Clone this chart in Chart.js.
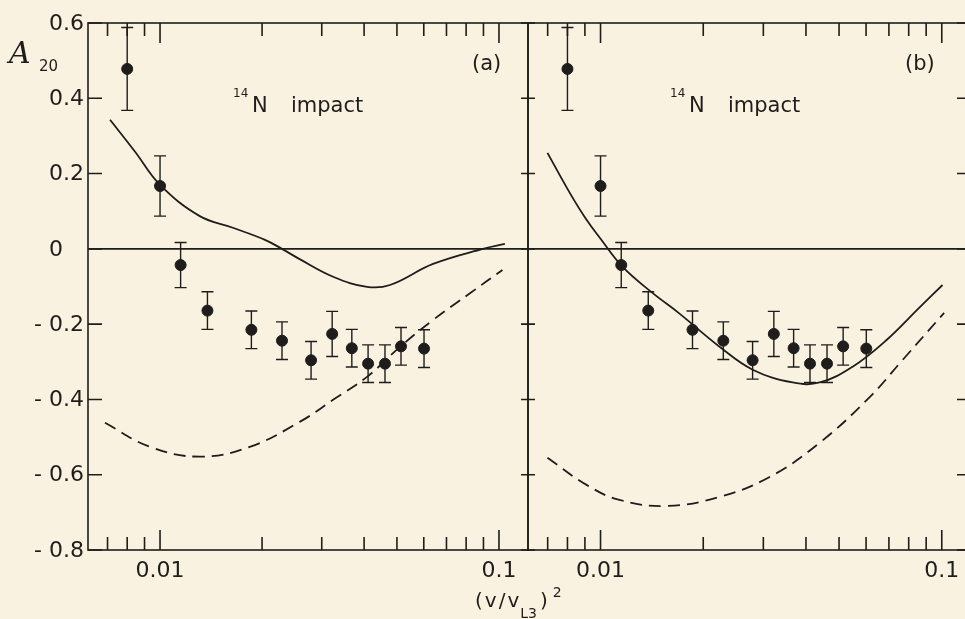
<!DOCTYPE html>
<html>
<head>
<meta charset="utf-8">
<script src="https://cdn.jsdelivr.net/npm/chart.js@4"></script>
<style>
  html, body { margin: 0; padding: 0; width: 965px; height: 619px; overflow: hidden; background: #faf2e1; }
  canvas { position: absolute; top: 0; }
  #chartA { left: 0; }
  #chartB { left: 500px; }
</style>
</head>
<body>
<canvas id="chartA" width="600" height="619"></canvas>
<canvas id="chartB" width="480" height="619"></canvas>
<script>
// measured points (same data in both panels)
const xVals = [0.0080, 0.0100, 0.0115, 0.0138, 0.0186, 0.0229, 0.0279, 0.0322, 0.0368, 0.0411, 0.0461, 0.0514, 0.0601];
const yVals = [0.478, 0.167, -0.043, -0.164, -0.215, -0.244, -0.296, -0.226, -0.264, -0.305, -0.305, -0.259, -0.265];
const yErr  = [0.11, 0.08, 0.06, 0.05, 0.05, 0.05, 0.05, 0.06, 0.05, 0.05, 0.05, 0.05, 0.05];

// panel (a) theory curves
const solidAx = [0.00712, 0.00844, 0.0100, 0.0131, 0.0164, 0.0204, 0.0229, 0.0259, 0.0324, 0.0408, 0.0477, 0.0639, 0.0897, 0.1041];
const solidAy = [0.343, 0.258, 0.170, 0.087, 0.056, 0.024, 0.0, -0.028, -0.074, -0.101, -0.096, -0.040, 0.0, 0.013];
const dashAx = [0.00688, 0.00934, 0.0131, 0.0184, 0.0259, 0.0324, 0.0408, 0.0511, 0.0639, 0.0821, 0.1024];
const dashAy = [-0.462, -0.526, -0.552, -0.526, -0.459, -0.401, -0.340, -0.260, -0.189, -0.118, -0.056];

// panel (b) theory curves
const solidBx = [0.00699, 0.00811, 0.00910, 0.0100, 0.01161, 0.01420, 0.01704, 0.02233, 0.02792, 0.03655, 0.0439, 0.0548, 0.0689, 0.0864, 0.1005];
const solidBy = [0.255, 0.150, 0.077, 0.027, -0.048, -0.117, -0.172, -0.260, -0.321, -0.355, -0.355, -0.313, -0.242, -0.154, -0.096];
const dashBx = [0.00699, 0.00910, 0.01137, 0.01562, 0.02233, 0.0313, 0.0439, 0.0616, 0.0768, 0.1016];
const dashBy = [-0.555, -0.627, -0.667, -0.683, -0.659, -0.606, -0.515, -0.393, -0.295, -0.170];

// axes
const yTicks = [0.6, 0.4, 0.2, 0, -0.2, -0.4, -0.6, -0.8];
const xTickMarks = [0.007, 0.008, 0.009, 0.01, 0.02, 0.03, 0.04, 0.05, 0.06, 0.07, 0.08, 0.09, 0.1];
const xMin = 0.00613, xMax = 0.1218;

const INK = '#1f1d1b';
const FONT = '"DejaVu Sans", sans-serif';

const pairs = (xs, ys) => xs.map((x, i) => ({x: x, y: ys[i]}));
const isDecade = v => Math.abs(Math.log10(v) - Math.round(Math.log10(v))) < 1e-6;

function panelPlugin(p) {
  return {
    id: 'panel',
    beforeDatasetsDraw(chart) {
      const {ctx, chartArea: a, scales: {x, y}} = chart;
      ctx.save();
      ctx.strokeStyle = INK;
      ctx.lineWidth = 1.6;
      const y0 = y.getPixelForValue(0);
      ctx.beginPath();
      ctx.moveTo(a.left, y0);
      ctx.lineTo(a.right, y0);
      ctx.stroke();
      // error bars
      ctx.lineWidth = 1.4;
      xVals.forEach((xv, i) => {
        const px = x.getPixelForValue(xv);
        const t = y.getPixelForValue(yVals[i] + yErr[i]);
        const b = y.getPixelForValue(yVals[i] - yErr[i]);
        ctx.beginPath();
        ctx.moveTo(px, t); ctx.lineTo(px, b);
        ctx.moveTo(px - 6, t); ctx.lineTo(px + 6, t);
        ctx.moveTo(px - 6, b); ctx.lineTo(px + 6, b);
        ctx.stroke();
      });
      ctx.restore();
    },
    afterDraw(chart) {
      const {ctx, chartArea: a, scales: {x, y}} = chart;
      ctx.save();
      ctx.strokeStyle = INK;
      ctx.fillStyle = INK;
      ctx.lineWidth = 1.6;
      ctx.strokeRect(a.left, a.top, a.right - a.left, a.bottom - a.top);

      // inward ticks
      ctx.beginPath();
      xTickMarks.forEach(v => {
        const px = x.getPixelForValue(v);
        const len = isDecade(v) ? 20 : 13;
        ctx.moveTo(px, a.bottom); ctx.lineTo(px, a.bottom - len);
        ctx.moveTo(px, a.top); ctx.lineTo(px, a.top + len);
      });
      yTicks.forEach(v => {
        const py = y.getPixelForValue(v);
        ctx.moveTo(a.left, py); ctx.lineTo(a.left + p.leftTick, py);
        ctx.moveTo(a.right, py); ctx.lineTo(a.right - p.rightTick, py);
      });
      ctx.stroke();

      // y tick labels, digits aligned on the leading zero
      if (p.yLabels) {
        ctx.font = '22px ' + FONT;
        ctx.textBaseline = 'middle';
        yTicks.forEach(v => {
          const py = y.getPixelForValue(v) + 1;
          const s = v === 0 ? '0' : Math.abs(v).toFixed(1);
          ctx.textAlign = 'left';
          ctx.fillText(s, 49, py);
          if (v < 0) {
            ctx.textAlign = 'center';
            ctx.fillText('-', 38, py);
          }
        });
      }

      // panel annotation
      ctx.textAlign = 'left';
      ctx.textBaseline = 'alphabetic';
      const ox = a.left + p.labelDx;
      ctx.font = '12px ' + FONT;
      ctx.fillText('14', ox, 97);
      ctx.font = '21px ' + FONT;
      ctx.fillText('N', ox + 19, 112);
      ctx.fillText('impact', ox + 58, 112);
      ctx.fillText(p.tag, a.right - p.tagDx, 70);

      if (p.yLabels) {
        ctx.font = 'italic 30px "DejaVu Serif", serif';
        ctx.fillText('A', 9, 63);
        ctx.font = '15px ' + FONT;
        ctx.fillText('20', 39, 71);

        // x axis title (v/vL3)^2
        let tx = 475;
        const put = (s, size, by, gap) => {
          ctx.font = size + 'px ' + FONT;
          for (const c of s) {
            ctx.fillText(c, tx, by);
            tx += ctx.measureText(c).width + gap;
          }
        };
        put('(v/v', 20, 607, 2);
        tx -= 1;
        put('L3', 14, 618, 0);
        tx += 3;
        put(')', 20, 607, 0);
        tx += 5;
        put('2', 14, 597, 0);
      }
      ctx.restore();
    }
  };
}

function makePanel(id, solid, dash, p) {
  return new Chart(document.getElementById(id), {
    type: 'scatter',
    data: {
      datasets: [
        {
          type: 'line',
          data: solid,
          borderColor: INK,
          borderWidth: 1.8,
          pointRadius: 0,
          tension: 0.4,
          fill: false
        },
        {
          type: 'line',
          data: dash,
          borderColor: INK,
          borderWidth: 1.8,
          borderDash: [12, 7],
          pointRadius: 0,
          tension: 0.4,
          fill: false
        },
        {
          data: pairs(xVals, yVals),
          backgroundColor: INK,
          borderColor: INK,
          pointRadius: 5.5
        }
      ]
    },
    options: {
      responsive: false,
      animation: false,
      layout: { padding: p.padding },
      plugins: { legend: { display: false }, tooltip: { enabled: false } },
      scales: {
        x: {
          type: 'logarithmic',
          min: xMin,
          max: xMax,
          grid: { display: false, drawTicks: false },
          border: { display: false },
          ticks: {
            autoSkip: false,
            maxRotation: 0,
            padding: 8,
            color: INK,
            font: { family: FONT, size: 22 },
            callback: v => (isDecade(v) ? String(Number(v)) : '')
          },
          afterFit: s => { s.height = 69; }
        },
        y: {
          min: -0.8,
          max: 0.6,
          grid: { display: false, drawTicks: false },
          border: { display: false },
          ticks: { display: false, stepSize: 0.2 },
          afterFit: s => { s.width = p.yWidth; }
        }
      }
    },
    plugins: [panelPlugin(p)]
  });
}

makePanel('chartA', pairs(solidAx, solidAy), pairs(dashAx, dashAy), {
  padding: { left: 0, right: 72, top: 23, bottom: 0 },
  yWidth: 88, yLabels: true,
  leftTick: 14, rightTick: 7,
  labelDx: 145, tag: '(a)', tagDx: 56
});

makePanel('chartB', pairs(solidBx, solidBy), pairs(dashBx, dashBy), {
  padding: { left: 0, right: 9, top: 23, bottom: 0 },
  yWidth: 28, yLabels: false,
  leftTick: 7, rightTick: 14,
  labelDx: 142, tag: '(b)', tagDx: 66
});
</script>
</body>
</html>
